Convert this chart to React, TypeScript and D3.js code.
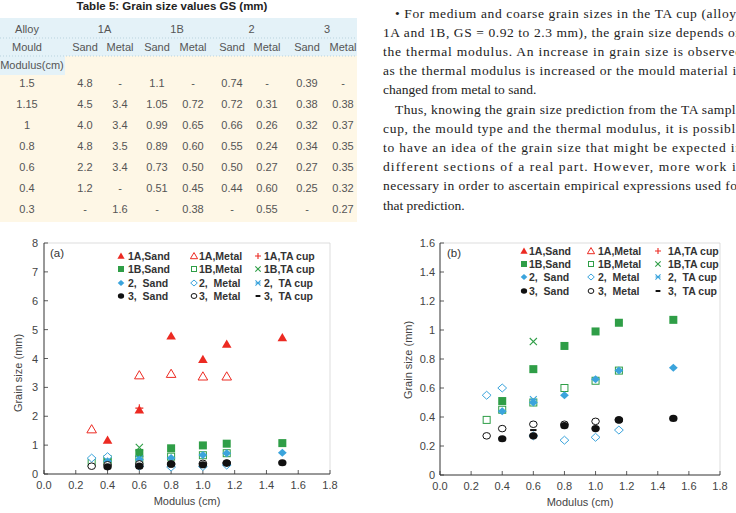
import React from "react";
import * as d3 from "d3";

// ---------- Table data ----------
const tableTitle = "Table 5: Grain size values GS (mm)";
const alloyHeaders = ["1A", "1B", "2", "3"];
const mouldHeaders = ["Sand", "Metal", "Sand", "Metal", "Sand", "Metal", "Sand", "Metal"];
const tableModulus = ["1.5", "1.15", "1", "0.8", "0.6", "0.4", "0.3"];
const tableRows = [
  ["4.8", "-", "1.1", "-", "0.74", "-", "0.39", "-"],
  ["4.5", "3.4", "1.05", "0.72", "0.72", "0.31", "0.38", "0.38"],
  ["4.0", "3.4", "0.99", "0.65", "0.66", "0.26", "0.32", "0.37"],
  ["4.8", "3.5", "0.89", "0.60", "0.55", "0.24", "0.34", "0.35"],
  ["2.2", "3.4", "0.73", "0.50", "0.50", "0.27", "0.27", "0.35"],
  ["1.2", "-", "0.51", "0.45", "0.44", "0.60", "0.25", "0.32"],
  ["-", "1.6", "-", "0.38", "-", "0.55", "-", "0.27"],
];

// ---------- Paragraph text ----------
const paragraphLines = [
  "\u2022 For medium and coarse grain sizes in the TA cup (alloys",
  "1A and 1B, GS = 0.92 to 2.3 mm), the grain size depends on",
  "the thermal modulus. An increase in grain size is observed",
  "as the thermal modulus is increased or the mould material is",
  "changed from metal to sand.",
  "Thus, knowing the grain size prediction from the TA sample",
  "cup, the mould type and the thermal modulus, it is possible",
  "to have an idea of the grain size that might be expected in",
  "different sections of a real part. However, more work is",
  "necessary in order to ascertain empirical expressions used for",
  "that prediction.",
];
const indentedLines = [0, 5];
const lastLines = [4, 10];

// ---------- Chart data ----------
const modulus = [1.5, 1.15, 1.0, 0.8, 0.6, 0.4, 0.3];
const sand1A = [4.72, 4.5, 3.97, 4.78, 2.22, 1.17, null];
const metal1A = [null, 3.38, 3.38, 3.47, 3.42, null, 1.55];
const cup1A = [null, null, null, null, 2.28, null, null];
const sand1B = [1.07, 1.05, 0.99, 0.89, 0.73, 0.51, null];
const metal1B = [null, 0.72, 0.65, 0.6, 0.5, 0.45, 0.38];
const cup1B = [null, null, null, null, 0.92, null, null];
const sand2 = [0.74, 0.72, 0.66, 0.55, 0.5, 0.44, null];
const metal2 = [null, 0.31, 0.26, 0.24, 0.27, 0.6, 0.55];
const cup2 = [null, null, null, null, 0.52, null, null];
const sand3 = [0.39, 0.38, 0.32, 0.34, 0.27, 0.25, null];
const metal3 = [null, 0.38, 0.37, 0.35, 0.35, 0.32, 0.27];
const cup3 = [null, null, null, null, 0.31, null, null];

const legendLabels = [
  ["1A,Sand", "1A,Metal", "1A,TA cup"],
  ["1B,Sand", "1B,Metal", "1B,TA cup"],
  ["2,  Sand", "2,  Metal", "2,  TA cup"],
  ["3,  Sand", "3,  Metal", "3,  TA cup"],
];

const RED = "#ec2a22";
const GREEN = "#2f9e47";
const BLUE = "#3ba4dc";
const BLACK = "#111";

type Kind = "triUp" | "triOpen" | "plus" | "sq" | "sqOpen" | "x" | "dia" | "diaOpen" | "star" | "circ" | "circOpen" | "dash";

const seriesTable: { kind: Kind; color: string; values: (number | null)[]; row: number; col: number }[] = [
  { kind: "triOpen", color: RED, values: metal1A, row: 0, col: 1 },
  { kind: "triUp", color: RED, values: sand1A, row: 0, col: 0 },
  { kind: "plus", color: RED, values: cup1A, row: 0, col: 2 },
  { kind: "sqOpen", color: GREEN, values: metal1B, row: 1, col: 1 },
  { kind: "sq", color: GREEN, values: sand1B, row: 1, col: 0 },
  { kind: "x", color: GREEN, values: cup1B, row: 1, col: 2 },
  { kind: "diaOpen", color: BLUE, values: metal2, row: 2, col: 1 },
  { kind: "dia", color: BLUE, values: sand2, row: 2, col: 0 },
  { kind: "star", color: BLUE, values: cup2, row: 2, col: 2 },
  { kind: "circOpen", color: BLACK, values: metal3, row: 3, col: 1 },
  { kind: "circ", color: BLACK, values: sand3, row: 3, col: 0 },
  { kind: "dash", color: BLACK, values: cup3, row: 3, col: 2 },
];

function Marker({ kind, color, x, y, s }: { kind: Kind; color: string; x: number; y: number; s: number }) {
  const t = `translate(${x},${y})`;
  const h = 4 * s;
  switch (kind) {
    case "triUp":
    case "triOpen": {
      const p = `M0,${-h * 1.15}L${h * 1.2},${h * 0.9}L${-h * 1.2},${h * 0.9}Z`;
      return kind === "triUp" ? (
        <path transform={t} d={p} fill={color} />
      ) : (
        <path transform={t} d={p} fill="white" stroke={color} strokeWidth={1} />
      );
    }
    case "sq":
      return <rect transform={t} x={-h} y={-h} width={2 * h} height={2 * h} fill={color} />;
    case "sqOpen":
      return <rect transform={t} x={-h + 0.5} y={-h + 0.5} width={2 * h - 1} height={2 * h - 1} fill="white" stroke={color} strokeWidth={1} />;
    case "dia":
    case "diaOpen": {
      const w = h * 1.1;
      const p = `M0,${-h}L${w},0L0,${h}L${-w},0Z`;
      return kind === "dia" ? (
        <path transform={t} d={p} fill={color} />
      ) : (
        <path transform={t} d={p} fill="white" stroke={color} strokeWidth={1} />
      );
    }
    case "circ":
      return <ellipse transform={t} rx={h * 1.05} ry={h * 0.9} fill={color} />;
    case "circOpen":
      return <ellipse transform={t} rx={h * 0.95} ry={h * 0.82} fill="white" stroke={color} strokeWidth={1} />;
    case "plus":
      return <path transform={t} d={`M${-h},0H${h}M0,${-h}V${h}`} stroke={color} strokeWidth={1.1} fill="none" />;
    case "x": {
      const a = h * 0.9;
      return <path transform={t} d={`M${-a},${-a}L${a},${a}M${-a},${a}L${a},${-a}`} stroke={color} strokeWidth={1.1} fill="none" />;
    }
    case "star": {
      const a = h * 0.85;
      return <path transform={t} d={`M${-a},${-a}L${a},${a}M${-a},${a}L${a},${-a}M${-a},0H${a}`} stroke={color} strokeWidth={1.1} fill="none" />;
    }
    case "dash":
      return <path transform={t} d={`M${-h * 0.8},0H${h * 0.8}`} stroke={color} strokeWidth={2} fill="none" />;
  }
  return null;
}

type ChartCfg = {
  x0: number; x1: number; yTop: number; yBottom: number; yMax: number; yTickCount: number;
  yFmt: (v: number) => string; tag: string; tagX: number;
  legX: number[]; legTextX: number[]; legY: number[];
  yTitleX: number; yTitleY: number; xTitleX: number; labelGap: number;
  hiddenRows: number[];
};

function Chart({ c }: { c: ChartCfg }) {
  const x = d3.scaleLinear().domain([0, 1.8]).range([c.x0, c.x1]);
  const y = d3.scaleLinear().domain([0, c.yMax]).range([c.yBottom, c.yTop]);
  const xTicks = d3.range(0, 10).map((i) => i * 0.2);
  const yTicks = y.ticks(c.yTickCount);
  const font = "Arial, 'Liberation Sans', sans-serif";
  return (
    <g fontFamily={font}>
      {/* frame top/right */}
      <path d={`M${c.x0},${c.yTop}H${c.x1}V${c.yBottom}`} stroke="#cfcfcf" strokeWidth={0.7} fill="none" />
      {/* axes */}
      <path d={`M${c.x0},${c.yTop}V${c.yBottom}H${c.x1}`} stroke="#333" strokeWidth={1} fill="none" />
      {xTicks.map((v, i) => (
        <g key={"xt" + i}>
          <line x1={x(v)} x2={x(v)} y1={c.yBottom} y2={c.yBottom - 4} stroke="#333" strokeWidth={0.8} />
          <text x={x(v)} y={c.yBottom + 11} textAnchor="middle" dominantBaseline="central" fontSize={11} fill="#444">
            {d3.format(".1f")(v)}
          </text>
        </g>
      ))}
      {yTicks.map((v, i) => (
        <g key={"yt" + i}>
          <line x1={c.x0} x2={c.x0 + 4} y1={y(v)} y2={y(v)} stroke="#333" strokeWidth={0.8} />
          <text x={c.x0 - c.labelGap} y={y(v)} textAnchor="end" dominantBaseline="central" fontSize={11} fill="#444">
            {c.yFmt(v)}
          </text>
        </g>
      ))}
      <text x={c.xTitleX} y={c.yBottom + 27} textAnchor="middle" dominantBaseline="central" fontSize={11} fill="#444">
        Modulus (cm)
      </text>
      <text
        transform={`translate(${c.yTitleX},${c.yTitleY}) rotate(-90)`}
        textAnchor="middle"
        dominantBaseline="central"
        fontSize={11}
        fill="#444"
      >
        Grain size (mm)
      </text>
      <text x={c.tagX} y={253} dominantBaseline="central" fontSize={11.5} fill="#333">
        {c.tag}
      </text>
      {/* legend */}
      {seriesTable.map((s, i) => (
        <g key={"lg" + i}>
          <Marker kind={s.kind} color={s.color} x={c.legX[s.col]} y={c.legY[s.row]} s={0.75} />
          <text
            x={c.legTextX[s.col]}
            y={c.legY[s.row]}
            dominantBaseline="central"
            fontSize={10.5}
            fontWeight="bold"
            fill="#333"
            style={{ whiteSpace: "pre" }}
          >
            {legendLabels[s.row][s.col]}
          </text>
        </g>
      ))}
      {/* points */}
      {seriesTable.map((s, i) =>
        c.hiddenRows.includes(s.row)
          ? null
          : s.values.map((v, j) =>
              v == null || v > c.yMax ? null : (
                <Marker key={`p${i}-${j}`} kind={s.kind} color={s.color} x={x(modulus[j])} y={y(v)} s={1} />
              )
            )
      )}
    </g>
  );
}

const chartA: ChartCfg = {
  x0: 44, x1: 330, yTop: 243, yBottom: 474, yMax: 8, yTickCount: 8,
  yFmt: (v) => d3.format("d")(v), tag: "(a)", tagX: 50,
  legX: [121, 194, 258], legTextX: [128, 199, 264], legY: [256, 269, 283, 296],
  yTitleX: 18, yTitleY: 373, xTitleX: 187, labelGap: 6, hiddenRows: [],
};
const chartB: ChartCfg = {
  x0: 440, x1: 720, yTop: 243, yBottom: 475, yMax: 1.6, yTickCount: 8,
  yFmt: (v) => d3.format(".2~f")(v), tag: "(b)", tagX: 447,
  legX: [524, 591, 658], legTextX: [529, 598, 668], legY: [251, 264, 277, 291],
  yTitleX: 408, yTitleY: 360, xTitleX: 580, labelGap: 5, hiddenRows: [0],
};

function Table() {
  const colX = [27, 85, 120, 157, 193, 232, 267, 307, 343];
  const rowY = d3.range(tableRows.length).map((i) => 83 + i * 21);
  const font = "Arial, 'Liberation Sans', sans-serif";
  return (
    <g fontFamily={font}>
      <text x={172} y={6} textAnchor="middle" dominantBaseline="central" fontSize={11.5} fontWeight="bold" fill="#222">
        {tableTitle}
      </text>
      <rect x={0} y={18} width={357} height={38} fill="#e4f2f8" />
      <rect x={0} y={56} width={65} height={19} fill="#e4f2f8" />
      <rect x={65} y={56} width={292} height={19} fill="#fef7e6" />
      <rect x={0} y={75} width={357} height={147} fill="#fef7e6" />
      <line x1={0} x2={357} y1={38} y2={38} stroke="#b9d3de" strokeDasharray="1,2" />
      <line x1={0} x2={357} y1={56} y2={56} stroke="#b9d3de" strokeDasharray="1,2" />
      <text x={colX[0]} y={29} textAnchor="middle" dominantBaseline="central" fontSize={11} fill="#555">Alloy</text>
      {alloyHeaders.map((h, i) => (
        <text key={"ah" + i} x={(colX[1 + 2 * i] + colX[2 + 2 * i]) / 2 + 2} y={29} textAnchor="middle" dominantBaseline="central" fontSize={11} fill="#555">
          {h}
        </text>
      ))}
      <text x={colX[0]} y={47} textAnchor="middle" dominantBaseline="central" fontSize={11} fill="#555">Mould</text>
      {mouldHeaders.map((h, i) => (
        <text key={"mh" + i} x={colX[i + 1]} y={47} textAnchor="middle" dominantBaseline="central" fontSize={11} fill="#555">
          {h}
        </text>
      ))}
      <text x={32} y={65} textAnchor="middle" dominantBaseline="central" fontSize={11} fill="#555">Modulus(cm)</text>
      {tableRows.map((r, i) => (
        <g key={"r" + i}>
          <text x={colX[0]} y={rowY[i]} textAnchor="middle" dominantBaseline="central" fontSize={11} fill="#555">
            {tableModulus[i]}
          </text>
          {r.map((v, j) => (
            <text key={j} x={colX[j + 1]} y={rowY[i]} textAnchor="middle" dominantBaseline="central" fontSize={11} fill="#555">
              {v}
            </text>
          ))}
        </g>
      ))}
    </g>
  );
}

function Paragraph() {
  const right = 742;
  return (
    <g fontFamily="'Liberation Serif', 'Times New Roman', serif" fontSize={13.5} fill="#222">
      {paragraphLines.map((l, i) => {
        const x0 = indentedLines.includes(i) ? 395 : 383;
        const yy = 13 + i * 19.2;
        const justify = !lastLines.includes(i);
        return (
          <text
            key={i}
            x={x0}
            y={yy}
            dominantBaseline="central"
            textLength={justify ? right - x0 : undefined}
            lengthAdjust={justify ? "spacing" : undefined}
          >
            {l}
          </text>
        );
      })}
    </g>
  );
}

export default function App() {
  return (
    <svg
      width={736}
      height={513}
      viewBox="0 0 736 513"
      style={{ position: "absolute", left: 0, top: 0, background: "white" }}
    >
      <rect x={0} y={0} width={736} height={513} fill="white" />
      <Table />
      <Paragraph />
      <Chart c={chartA} />
      <Chart c={chartB} />
    </svg>
  );
}
